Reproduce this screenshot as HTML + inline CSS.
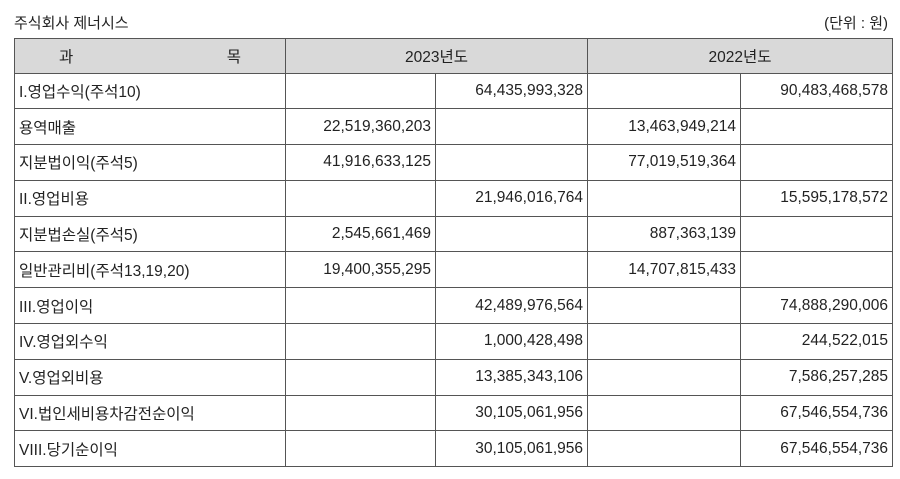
<!DOCTYPE html>
<html><head><meta charset="utf-8"><style>
body{margin:0;background:#fff;width:900px;height:479px;overflow:hidden;font-family:"Liberation Sans","Malgun Gothic","Noto Sans CJK KR",sans-serif;color:#222;}
.t{position:absolute;font-size:15px;}
table{position:absolute;left:14px;top:38px;border-collapse:collapse;table-layout:fixed;}
td{border:1.5px solid #555;height:35.8px;padding:0 4px;font-size:15.5px;white-space:nowrap;box-sizing:border-box;}
td.n{text-align:right;}
tr.h td{background:#d9d9d9;text-align:center;height:34.5px;}
</style></head><body>
<div class="t" style="left:14px;top:12px;">주식회사 제너시스</div>
<div class="t" style="right:12px;top:12px;">(단위 : 원)</div>
<table>
<colgroup><col style="width:271px"><col style="width:150px"><col style="width:152px"><col style="width:153px"><col style="width:152px"></colgroup>
<tr class="h"><td><span style="float:left;margin-left:40px">과</span><span style="float:right;margin-right:40px">목</span></td><td colspan="2">2023년도</td><td colspan="2">2022년도</td></tr>
<tr><td>I.영업수익(주석10)</td><td></td><td class="n">64,435,993,328</td><td></td><td class="n">90,483,468,578</td></tr>
<tr><td>용역매출</td><td class="n">22,519,360,203</td><td></td><td class="n">13,463,949,214</td><td></td></tr>
<tr><td>지분법이익(주석5)</td><td class="n">41,916,633,125</td><td></td><td class="n">77,019,519,364</td><td></td></tr>
<tr><td>II.영업비용</td><td></td><td class="n">21,946,016,764</td><td></td><td class="n">15,595,178,572</td></tr>
<tr><td>지분법손실(주석5)</td><td class="n">2,545,661,469</td><td></td><td class="n">887,363,139</td><td></td></tr>
<tr><td>일반관리비(주석13,19,20)</td><td class="n">19,400,355,295</td><td></td><td class="n">14,707,815,433</td><td></td></tr>
<tr><td>III.영업이익</td><td></td><td class="n">42,489,976,564</td><td></td><td class="n">74,888,290,006</td></tr>
<tr><td>IV.영업외수익</td><td></td><td class="n">1,000,428,498</td><td></td><td class="n">244,522,015</td></tr>
<tr><td>V.영업외비용</td><td></td><td class="n">13,385,343,106</td><td></td><td class="n">7,586,257,285</td></tr>
<tr><td>VI.법인세비용차감전순이익</td><td></td><td class="n">30,105,061,956</td><td></td><td class="n">67,546,554,736</td></tr>
<tr><td>VIII.당기순이익</td><td></td><td class="n">30,105,061,956</td><td></td><td class="n">67,546,554,736</td></tr>
</table>
</body></html>
